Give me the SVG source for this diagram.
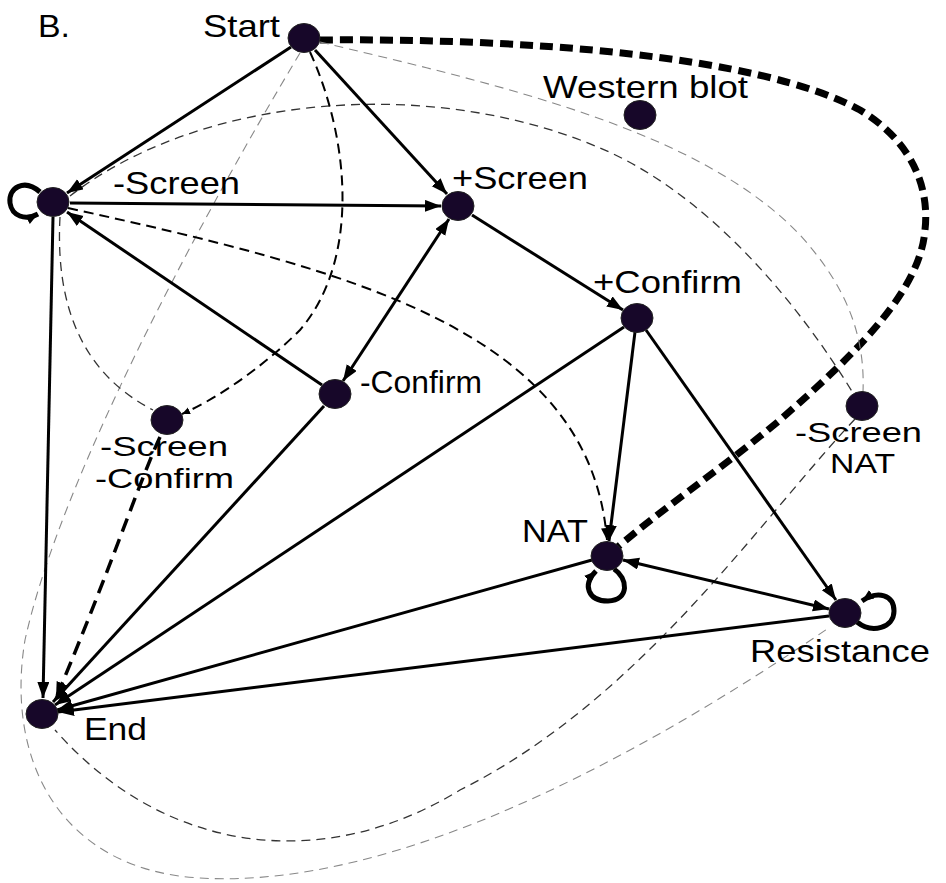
<svg xmlns="http://www.w3.org/2000/svg" width="946" height="883" viewBox="0 0 946 883">
<style>
.lbl{font-family:"Liberation Sans",Arial,sans-serif;font-size:32px;fill:#000}
.lbl2{font-family:"Liberation Sans",Arial,sans-serif;font-size:28px;fill:#000}
.node{fill:#170729;stroke:#222;stroke-width:1}
.solid{fill:none;stroke:#000;stroke-width:3}
.loop{fill:none;stroke:#000;stroke-width:5}
.thick{fill:none;stroke:#000;stroke-width:7;stroke-dasharray:13 7}
.dmed{fill:none;stroke:#000;stroke-width:2;stroke-dasharray:10 6}
.dheavy{fill:none;stroke:#000;stroke-width:3.5;stroke-dasharray:14 8}
.dthin{fill:none;stroke:#333;stroke-width:1.3;stroke-dasharray:9 6}
.dlight{fill:none;stroke:#888;stroke-width:1.1;stroke-dasharray:9 6}
</style>
<defs>
<marker id="ah" markerUnits="userSpaceOnUse" markerWidth="18" markerHeight="14" refX="16" refY="6" orient="auto-start-reverse"><path d="M0,0 L16,6 L0,12 z" fill="#000"/></marker>
<marker id="ahs" markerUnits="userSpaceOnUse" markerWidth="14" markerHeight="12" refX="12" refY="5" orient="auto"><path d="M0,0 L12,5 L0,10 z" fill="#000"/></marker>
<marker id="aht" markerUnits="userSpaceOnUse" markerWidth="10" markerHeight="8" refX="8" refY="3.5" orient="auto"><path d="M0,0 L8,3.5 L0,7 z" fill="#000"/></marker>
</defs>
<text class="lbl" x="38" y="37" textLength="32" lengthAdjust="spacingAndGlyphs">B.</text>
<g id="connectors">
<path class="thick" d="M 320 40 C 520 38, 760 55, 860 110 C 910 140, 930 185, 925 230 C 920 290, 860 350, 780 420 C 720 470, 660 510, 612 552"/>
<path class="dlight" d="M 320 42 C 500 85, 700 130, 800 235 C 850 290, 865 340, 863 392"/>
<path class="dthin" d="M 70 196 C 200 95, 430 75, 600 148 C 700 190, 790 290, 853 393"/>
<path class="dthin" d="M 855 419 C 760 520, 640 700, 460 790 C 330 870, 170 860, 55 730"/>
<path class="dlight" d="M 300 53 C 200 220, 60 480, 25 640 C 5 760, 60 870, 200 878 C 400 890, 650 750, 830 627"/>
<path class="dthin" d="M 60 217 C 55 310, 85 375, 153 410"/>
<path class="dmed" d="M 310 52 C 350 140, 360 260, 300 330 C 270 360, 225 395, 182 414" marker-end="url(#aht)"/>
<path class="dmed" d="M 68 208 C 350 270, 590 330, 607 540" marker-end="url(#ahs)"/>
<path class="dheavy" d="M 160 437 C 140 480, 110 570, 56 698" marker-end="url(#ah)"/>
<line class="solid" x1="291" y1="47" x2="67" y2="193" marker-end="url(#ah)"/>
<line class="solid" x1="315" y1="50" x2="447" y2="194" marker-end="url(#ah)"/>
<line class="solid" x1="70" y1="203" x2="441" y2="206" marker-end="url(#ah)"/>
<line class="solid" x1="322" y1="385" x2="67" y2="212" marker-end="url(#ah)"/>
<line class="solid" x1="449" y1="219" x2="343" y2="381" marker-start="url(#ah)" marker-end="url(#ah)"/>
<line class="solid" x1="472" y1="215" x2="623" y2="310" marker-end="url(#ah)"/>
<line class="solid" x1="53" y1="217" x2="43" y2="698" marker-end="url(#ah)"/>
<line class="solid" x1="324" y1="406" x2="53" y2="702" marker-end="url(#ah)"/>
<line class="solid" x1="624" y1="327" x2="55" y2="705" marker-end="url(#ah)"/>
<line class="solid" x1="635" y1="332" x2="609" y2="541" marker-end="url(#ah)"/>
<line class="solid" x1="646" y1="330" x2="836" y2="600" marker-end="url(#ah)"/>
<line class="solid" x1="592" y1="560" x2="57" y2="710" marker-end="url(#ah)"/>
<line class="solid" x1="623" y1="560" x2="829" y2="609" marker-start="url(#ah)" marker-end="url(#ah)"/>
<line class="solid" x1="829" y1="616" x2="58" y2="712" marker-end="url(#ah)"/>
<path class="loop" d="M 40 192 C 24 178, 8 188, 10 203 C 12 216, 25 221, 38 214" marker-end="url(#ahs)"/>
<path class="loop" d="M 614 569 C 628 578, 630 600, 608 601 C 588 601, 582 585, 596 571" marker-end="url(#ahs)"/>
<path class="loop" d="M 857 622 C 872 634, 894 628, 894 611 C 894 595, 878 590, 862 601" marker-end="url(#ahs)"/>
</g>
<g id="start"><ellipse class="node" cx="304" cy="38" rx="16" ry="14.5"/><text class="lbl" x="203" y="37" textLength="77" lengthAdjust="spacingAndGlyphs">Start</text></g>
<g id="minus-screen"><ellipse class="node" cx="53" cy="202" rx="16" ry="14.5"/><text class="lbl" x="113" y="194" textLength="127" lengthAdjust="spacingAndGlyphs">-Screen</text></g>
<g id="plus-screen"><ellipse class="node" cx="458" cy="206" rx="16" ry="14.5"/><text class="lbl" x="452" y="189" textLength="136" lengthAdjust="spacingAndGlyphs">+Screen</text></g>
<g id="plus-confirm"><ellipse class="node" cx="637" cy="318" rx="16" ry="14.5"/><text class="lbl" x="593" y="293" textLength="149" lengthAdjust="spacingAndGlyphs">+Confirm</text></g>
<g id="western-blot"><ellipse class="node" cx="640" cy="115" rx="16" ry="14.5"/><text class="lbl" x="543" y="98" textLength="205" lengthAdjust="spacingAndGlyphs">Western blot</text></g>
<g id="minus-confirm"><ellipse class="node" cx="335" cy="394" rx="16" ry="14.5"/><text class="lbl" x="360" y="393" textLength="122" lengthAdjust="spacingAndGlyphs">-Confirm</text></g>
<g id="minus-screen-minus-confirm"><ellipse class="node" cx="167" cy="420" rx="16" ry="14.5"/><text class="lbl2" x="100" y="456" textLength="128" lengthAdjust="spacingAndGlyphs">-Screen</text><text class="lbl2" x="95" y="488" textLength="139" lengthAdjust="spacingAndGlyphs">-Confirm</text></g>
<g id="minus-screen-nat"><ellipse class="node" cx="862" cy="406" rx="16" ry="14.5"/><text class="lbl2" x="795" y="442" textLength="127" lengthAdjust="spacingAndGlyphs">-Screen</text><text class="lbl2" x="830" y="473" textLength="65" lengthAdjust="spacingAndGlyphs">NAT</text></g>
<g id="nat"><ellipse class="node" cx="607" cy="556" rx="16" ry="14.5"/><text class="lbl" x="522" y="542" textLength="66" lengthAdjust="spacingAndGlyphs">NAT</text></g>
<g id="resistance"><ellipse class="node" cx="845" cy="613" rx="16" ry="14.5"/><text class="lbl" x="750" y="662" textLength="180" lengthAdjust="spacingAndGlyphs">Resistance</text></g>
<g id="end"><ellipse class="node" cx="42" cy="714" rx="16" ry="14.5"/><text class="lbl" x="84" y="740" textLength="63" lengthAdjust="spacingAndGlyphs">End</text></g>
</svg>
